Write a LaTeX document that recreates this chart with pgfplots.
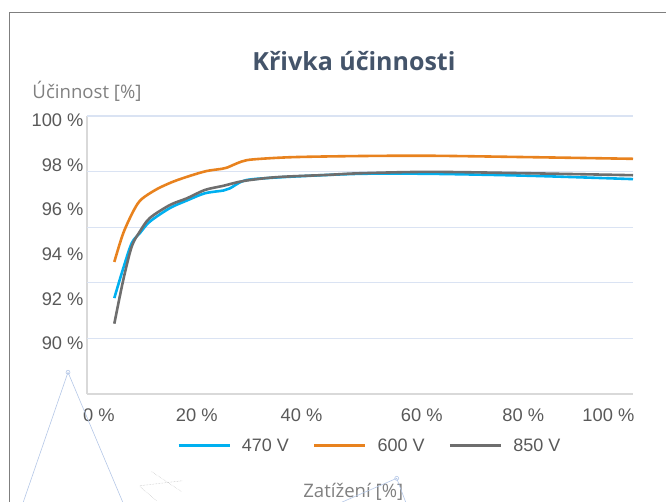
\documentclass[border=0pt]{standalone}
\usepackage{fontspec}
\setmainfont{Liberation Sans}
\newfontfamily\opensans{Open Sans}
\usepackage{pgfplots}
\pgfplotsset{compat=1.18}
\definecolor{c470}{HTML}{00B0F0}
\definecolor{c600}{HTML}{E8821E}
\definecolor{c850}{HTML}{6E6E6E}
\definecolor{gridc}{HTML}{DAE3F3}
\definecolor{axc}{HTML}{D9D9D9}
\definecolor{tickc}{HTML}{595959}
\definecolor{titlec}{HTML}{44546A}
\definecolor{labc}{HTML}{808080}
\definecolor{framec}{HTML}{7F7F7F}
\definecolor{decoc}{HTML}{B4C7E7}
\begin{document}
\begin{tikzpicture}[x=1pt,y=1pt]
\path[use as bounding box] (0,0) rectangle (666,501);
\draw[framec, line width=1pt] (9,-5) -- (9,488.7) -- (680,488.7);
\begin{axis}[
 at={(87pt,107pt)}, anchor=south west, scale only axis, width=546pt, height=278pt,
 xmin=0, xmax=100, ymin=90, ymax=100,
 axis x line*=bottom, axis y line*=left,
 axis line style={-, draw=axc, line width=1.2pt},
 xtick={2.2,20.1,39.3,61.3,79.9,95.5},
 xticklabels={0 \%,20 \%,40 \%,60 \%,80 \%,100 \%},
 ytick={91.83,93.42,95.04,96.65,98.24,99.86},
 yticklabels={90 \%,92 \%,94 \%,96 \%,98 \%,100 \%},
 major tick length=0pt,
 extra y ticks={92,94,96,98,100},
 extra y tick labels={},
 extra y tick style={grid=major, major grid style={draw=gridc, line width=1.3pt}},
 tick label style={font=\fontsize{18.3}{20}\selectfont, text=tickc},
 xticklabel style={anchor=base, yshift=-27.5pt},
 legend style={at={(0.518,-0.186)}, anchor=center, draw=none, fill=none, legend columns=3,
   font=\fontsize{18}{20}\selectfont, text=tickc,
   /tikz/every odd column/.append style={column sep=9pt},
   /tikz/every even column/.append style={column sep=22pt}},
 legend image code/.code={\draw[#1] (0pt,0pt) -- (51pt,0pt);},
 title={Křivka účinnosti},
 title style={at={(axis description cs:0.489,1.177)}, anchor=center,
   font=\opensans\bfseries\fontsize{25}{28}\selectfont, text=titlec},
 ylabel={Účinnost [\%]},
 every axis y label/.style={at={(axis description cs:-0.1002,1.09)}, anchor=west, inner sep=0pt,
   font=\opensans\fontsize{18.6}{20}\selectfont, text=labc},
 xlabel={Zatížení [\%]},
 every axis x label/.style={at={(axis description cs:0.4877,-0.3507)}, anchor=center, inner sep=0pt,
   font=\opensans\fontsize{18.6}{20}\selectfont, text=labc},
]
\addplot[c470, line width=2.6pt, smooth] coordinates {
(5,93.45) (6.65,94.53) (8.2,95.43) (9.7,95.79) (11.5,96.20) (15.2,96.69) (18.3,96.96)
(21.6,97.22) (25,97.32) (26.2,97.40) (28.3,97.64) (30.5,97.73) (37.7,97.82) (50,97.92)
(62.8,97.92) (81,97.85) (100,97.73)};
\addlegendentry{470 V}
\addplot[c600, line width=2.6pt, smooth] coordinates {
(5,94.75) (6.65,95.79) (8.6,96.62) (10,97.01) (12.8,97.37) (15.8,97.64) (18.9,97.85)
(21.9,98.02) (24.7,98.10) (25.6,98.14) (28.3,98.36) (30.5,98.44) (37.7,98.52) (50,98.56)
(62.8,98.57) (81,98.52) (100,98.46)};
\addlegendentry{600 V}
\addplot[c850, line width=2.6pt, smooth] coordinates {
(5,92.53) (6.65,94.11) (8.2,95.31) (9.7,95.85) (11.5,96.33) (15.2,96.80) (18.3,97.04)
(21.6,97.34) (25,97.49) (28.6,97.66) (34.7,97.80) (43.9,97.88) (50,97.94) (62.8,97.99)
(81,97.94) (100,97.87)};
\addlegendentry{850 V}
\end{axis}
\draw[decoc, line width=0.6pt] (23.3,-1) -- (68,128.7) -- (122.7,-1);
\draw[decoc, line width=0.6pt] (68,128.7) circle (2pt);
\draw[decoc, line width=0.6pt] (340,-2) -- (396.7,22.7) -- (406,-2);
\draw[decoc, line width=0.6pt] (396.7,22.7) circle (2pt);
\draw[black!25, line width=0.5pt, densely dotted] (140,15.3) -- (182.7,20.3) (151.7,29.3) -- (181.7,9.3) (140,14.3) -- (156.7,0);
\end{tikzpicture}
\end{document}
